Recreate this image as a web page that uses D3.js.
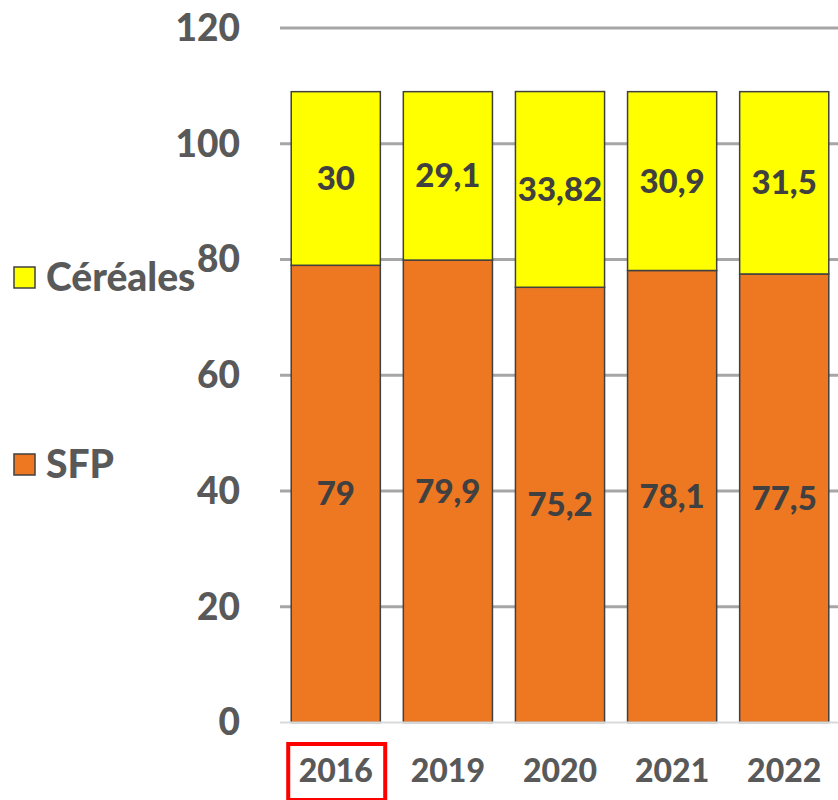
<!DOCTYPE html>
<html>
<head>
<meta charset="utf-8">
<script src="https://cdn.jsdelivr.net/npm/d3@7"></script>
<style>
	html, body { margin: 0; padding: 0; background: #fff; }
	svg { display: block; font-family: Lato, "Open Sans", sans-serif; font-weight: 900; }
</style>
</head>
<body>
<svg id="chart" width="838" height="800"></svg>
<script>
const years = ["2016", "2019", "2020", "2021", "2022"];
const sfp = [79, 79.9, 75.2, 78.1, 77.5];
const cereales = [30, 29.1, 33.82, 30.9, 31.5];
const sfpLabels = ["79", "79,9", "75,2", "78,1", "77,5"];
const cerealesLabels = ["30", "29,1", "33,82", "30,9", "31,5"];
const yTicks = [0, 20, 40, 60, 80, 100, 120];

const svg = d3.select("#chart");
const width = 838, height = 800;

const x = d3.scaleBand()
	.domain(years)
	.range([280, 840])
	.paddingInner(0.205)
	.paddingOuter(0.1);

const y = d3.scaleLinear()
	.domain([0, 120])
	.range([722.5, 28]);

// cut-off title at the top (only the bottom of the brackets shows)
svg.append("text")
	.attr("x", 708)
	.attr("y", -6)
	.attr("text-anchor", "middle")
	.attr("font-size", 34)
	.attr("fill", "#595959")
	.text("(t/ha)");

// gridlines
svg.append("g")
	.selectAll("line")
	.data(yTicks.filter(d => d > 0))
	.join("line")
	.attr("x1", 280)
	.attr("x2", width)
	.attr("y1", d => y(d))
	.attr("y2", d => y(d))
	.attr("stroke", "#a6a6a6")
	.attr("stroke-width", 3);

// y tick labels
svg.append("g")
	.selectAll("text")
	.data(yTicks)
	.join("text")
	.attr("x", 240)
	.attr("y", d => y(d))
	.attr("dy", "0.35em")
	.attr("text-anchor", "end")
	.attr("font-size", 37)
	.attr("fill", "#595959")
	.text(d => d);

// stacked bars
const rows = years.map((yr, i) => ({ year: yr, sfp: sfp[i], cereales: cereales[i], i }));

const barG = svg.append("g");
barG.selectAll(".sfp")
	.data(rows)
	.join("rect")
	.attr("class", "sfp")
	.attr("x", d => x(d.year))
	.attr("width", x.bandwidth())
	.attr("y", d => y(d.sfp))
	.attr("height", d => y(0) - y(d.sfp))
	.attr("fill", "#ee7722")
	.attr("stroke", "#404040")
	.attr("stroke-width", 1.5);

barG.selectAll(".cer")
	.data(rows)
	.join("rect")
	.attr("class", "cer")
	.attr("x", d => x(d.year))
	.attr("width", x.bandwidth())
	.attr("y", d => y(d.sfp + d.cereales))
	.attr("height", d => y(d.sfp) - y(d.sfp + d.cereales))
	.attr("fill", "#ffff00")
	.attr("stroke", "#404040")
	.attr("stroke-width", 1.5);

// axis baseline
svg.append("line")
	.attr("x1", 280)
	.attr("x2", width)
	.attr("y1", y(0))
	.attr("y2", y(0))
	.attr("stroke", "#d9d9d9")
	.attr("stroke-width", 2);

// data labels
barG.selectAll(".sfp-label")
	.data(rows)
	.join("text")
	.attr("class", "sfp-label")
	.attr("x", d => x(d.year) + x.bandwidth() / 2)
	.attr("y", d => y(d.sfp / 2))
	.attr("dy", "0.35em")
	.attr("text-anchor", "middle")
	.attr("font-size", 33)
	.attr("fill", "#404040")
	.text(d => sfpLabels[d.i]);

barG.selectAll(".cer-label")
	.data(rows)
	.join("text")
	.attr("class", "cer-label")
	.attr("x", d => x(d.year) + x.bandwidth() / 2)
	.attr("y", d => y(d.sfp + d.cereales / 2))
	.attr("dy", "0.35em")
	.attr("text-anchor", "middle")
	.attr("font-size", 33)
	.attr("fill", "#404040")
	.text(d => cerealesLabels[d.i]);

// x labels
svg.append("g")
	.selectAll("text")
	.data(years)
	.join("text")
	.attr("x", d => x(d) + x.bandwidth() / 2)
	.attr("y", 771)
	.attr("dy", "0.35em")
	.attr("text-anchor", "middle")
	.attr("font-size", 32)
	.attr("fill", "#595959")
	.text(d => d);

// red highlight around 2016
svg.append("rect")
	.attr("x", x("2016") - 3)
	.attr("y", 744)
	.attr("width", 97)
	.attr("height", 56)
	.attr("fill", "none")
	.attr("stroke", "#ff0000")
	.attr("stroke-width", 4);

// legend
const legend = [
	{ name: "Céréales", color: "#ffff00", y: 277 },
	{ name: "SFP", color: "#ee7722", y: 464 }
];
const lg = svg.append("g").selectAll("g")
	.data(legend)
	.join("g")
	.attr("transform", d => `translate(0, ${d.y})`);
lg.append("rect")
	.attr("x", 14)
	.attr("y", -10)
	.attr("width", 21)
	.attr("height", 21)
	.attr("fill", d => d.color)
	.attr("stroke", "#404040")
	.attr("stroke-width", 1.5);
lg.append("text")
	.attr("x", 46)
	.attr("y", 0)
	.attr("dy", "0.35em")
	.attr("font-size", 39)
	.attr("fill", "#595959")
	.text(d => d.name);
</script>
</body>
</html>
